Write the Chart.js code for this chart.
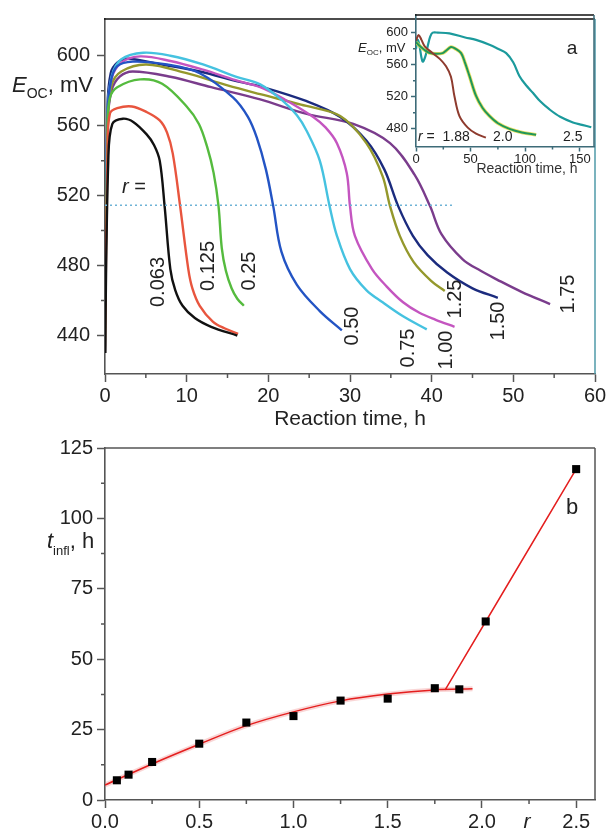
<!DOCTYPE html>
<html>
<head>
<meta charset="utf-8">
<script src="https://cdn.jsdelivr.net/npm/chart.js@4.4.1/dist/chart.umd.min.js"></script>
<style>
    html, body { margin: 0; padding: 0; background: #fff; }
    #wrap { position: relative; width: 611px; height: 833px; }
    canvas { position: absolute; }
    #topChart { left: 0; top: 0; }
    #insetChart { left: 340px; top: 0; }
    #bottomChart { left: 0; top: 432px; }
</style>
</head>
<body>
<div id="wrap">
    <canvas id="topChart" width="611" height="432"></canvas>
    <canvas id="insetChart" width="271" height="185"></canvas>
    <canvas id="bottomChart" width="611" height="401"></canvas>
</div>
<script>
// ===== Panel a: E_OC vs reaction time, one curve per r =====
const t0063 = [0, 0.4, 0.9, 2.2, 3.5, 5.1, 6.0, 6.7, 7.3, 8.0, 8.6, 9.5, 11.0, 13.0, 16.2];
const e0063 = [430, 540, 561, 564, 562, 555, 549, 540, 514, 478, 466, 457, 450, 445, 440];
const t0125 = [0, 0.3, 0.6, 1.5, 3.3, 5.0, 6.7, 7.6, 8.3, 9.2, 10.2, 10.7, 11.6, 13.2, 14.7, 16.3];
const e0125 = [430, 545, 567, 570, 571, 568, 563, 556, 544, 514, 478, 467, 457, 448, 444, 441];
const t025 = [0, 0.3, 0.6, 1.5, 4.3, 7.0, 10.0, 11.5, 12.5, 13.3, 13.9, 14.3, 14.8, 15.5, 16.2, 17.0];
const e025 = [430, 560, 576, 582, 586.5, 584, 571, 561, 548, 533, 514, 490, 477, 467, 461, 457];
const t050 = [0, 0.3, 0.7, 1.5, 3.4, 7.6, 11.6, 15.7, 17.5, 18.6, 19.7, 20.6, 21.6, 23.5, 26.3, 29.0];
const e050 = [430, 565, 585, 594, 596.6, 595, 590, 576, 565, 553, 535, 514, 488, 469, 454, 443];
const t075 = [0, 0.3, 0.8, 2.0, 4.7, 8, 12, 16, 19, 21.8, 23.5, 24.7, 26.3, 27.5, 28.4, 30.0, 32.0, 34.0, 36.5, 39.4];
const e075 = [430, 565, 588, 598, 601.7, 600, 595, 588, 583.6, 574, 566, 557, 540, 514, 497, 478, 466, 459, 451, 443.5];
const t100 = [0, 0.3, 0.8, 2.0, 4.3, 8, 12, 16, 19, 22, 25.5, 27, 28.4, 29.6, 30.0, 30.6, 32.7, 34.5, 36.5, 38.5, 40.5, 42.8];
const e100 = [430, 565, 587, 596, 599.6, 597, 592, 586, 582, 575, 565, 559, 550, 533, 514, 497, 478, 468, 459, 453, 449, 445];
const t125 = [0, 0.3, 0.8, 2.0, 5.1, 10, 15, 19, 24, 28.8, 32, 34, 34.9, 36.1, 37.8, 40, 41.6];
const e125 = [430, 560, 583, 591, 595, 590, 583, 578, 572, 565.5, 550, 531, 514, 497, 482, 471, 465.5];
const t150 = [0, 0.3, 0.7, 1.5, 2.7, 7, 11.6, 16.5, 19, 24.7, 28.8, 32, 34.2, 35.9, 37.7, 39.5, 41.9, 45, 48.1];
const e150 = [430, 570, 590, 596, 598.3, 595, 591, 585, 582.5, 574, 565, 551.5, 535, 514, 497, 486, 476, 467, 461.6];
const t175 = [0, 0.3, 0.8, 1.8, 3.4, 8, 13, 19, 24.7, 30.4, 34.9, 37.9, 39.8, 41.2, 43.8, 46, 48, 51, 54.5];
const e175 = [430, 560, 580, 588, 591, 588, 582, 575, 566.7, 561, 550, 532, 514, 498, 483.6, 477, 472, 465, 458];
const dashT = [0, 42.5];
const dashE = [514.5, 514.5];

const topXTicks = [0, 10, 20, 30, 40, 50, 60];
const topXMinor = [5, 15, 25, 35, 45, 55];
const topYTicks = [440, 480, 520, 560, 600];
const topYMinor = [460, 500, 540, 580];
const curveNames = ['0.063', '0.125', '0.25', '0.50', '0.75', '1.00', '1.25', '1.50', '1.75'];

// ===== Inset: r = 1.88, 2.0, 2.5 =====
const t188 = [0, 2.4, 5, 8, 15.3, 22, 27.5, 32, 35.2, 39.8, 47.4, 55, 64];
const e188 = [590, 597, 591, 583, 574.4, 567, 558, 545, 520.7, 496, 481.6, 474, 469];
const t200 = [0, 3, 7.6, 12, 18.3, 24.5, 28, 32, 36, 41.3, 45, 49, 55, 61, 67.3, 75, 85.6, 97, 110];
const e200 = [588, 584, 578.6, 575, 573.6, 574.5, 578, 582, 580, 574.5, 562, 545.7, 521, 506, 496, 487, 480, 475.5, 472.6];
const t250 = [0, 1.5, 3, 6, 8.5, 10.7, 13, 15.3, 20, 30.6, 45, 55, 67.3, 75, 82.6, 89, 94.8, 101, 107, 114, 122, 132, 143.7, 152, 160.5];
const e250 = [580, 591, 585, 564, 570, 583, 595, 600, 600, 599, 594, 591, 585, 580, 574.5, 563, 545.7, 534, 525, 514, 504.5, 495, 488, 485, 482];
const insetXTicks = [0, 50, 100, 150];
const insetXMinor = [25, 75, 125];
const insetYTicks = [480, 520, 560, 600];
const insetYMinor = [500, 540, 580];

// ===== Panel b: inflection time vs r =====
const rValues = [0.063, 0.125, 0.25, 0.5, 0.75, 1.0, 1.25, 1.5, 1.75, 1.88, 2.02, 2.5];
const tInfl = [7.0, 9.0, 13.5, 20.0, 27.5, 29.8, 35.3, 36.0, 39.7, 39.3, 63.4, 117.5];
const fitR = [0, 0.25, 0.5, 0.75, 1.0, 1.25, 1.5, 1.75, 1.95];
const fitT = [5.3, 12.8, 19.8, 26.4, 31.3, 35.2, 37.6, 39.1, 39.5];
const riseR = [1.805, 2.5];
const riseT = [39.1, 117.5];
const botXTicks = [0, 0.5, 1.0, 1.5, 2.0, 2.5];
const botXMinor = [0.25, 0.75, 1.25, 1.75, 2.25];
const botYTicks = [0, 25, 50, 75, 100, 125];
const botYMinor = [12.5, 37.5, 62.5, 87.5, 112.5];

// ===== Helpers =====
const FONT = '"Liberation Sans", Arial, sans-serif';
Chart.defaults.font.family = FONT;
Chart.defaults.color = '#222';
Chart.defaults.animation = false;

const pts = (xs, ys) => xs.map((x, i) => ({ x, y: ys[i] }));

function curve(label, xs, ys, color, width) {
    return {
        label, data: pts(xs, ys), borderColor: color, borderWidth: width || 2.4,
        pointRadius: 0, fill: false, tension: 0.35
    };
}

const setTicks = values => s => { s.ticks = values.map(v => ({ value: v })); };

function axis(cfg) {
    return {
        type: 'linear', min: cfg.min, max: cfg.max,
        afterBuildTicks: setTicks(cfg.ticks),
        afterFit: cfg.fit,
        ticks: { autoSkip: false, maxRotation: 0, padding: cfg.pad, font: { size: cfg.size }, color: '#222', callback: cfg.fmt },
        grid: { display: true, drawOnChartArea: false, tickLength: cfg.tick, tickColor: cfg.color, tickWidth: 1.5 },
        border: { display: true, color: cfg.color, width: 1.6 }
    };
}

// text made of runs with different fonts / baseline shifts
function runs(ctx, x, y, parts) {
    ctx.textAlign = 'left';
    ctx.textBaseline = 'alphabetic';
    parts.forEach(p => {
        ctx.font = p.f;
        ctx.fillText(p.t, x, y + (p.dy || 0));
        x += ctx.measureText(p.t).width;
    });
}

function rotText(ctx, text, cx, cy, font) {
    ctx.save();
    ctx.translate(cx, cy);
    ctx.rotate(-Math.PI / 2);
    ctx.font = font;
    ctx.textAlign = 'center';
    ctx.textBaseline = 'middle';
    ctx.fillText(text, 0, 0);
    ctx.restore();
}

// minor ticks + top/right frame lines + free text
function decor(o) {
    return {
        id: 'decor',
        afterDraw(chart) {
            const ctx = chart.ctx, a = chart.chartArea;
            const xs = chart.scales.x, ys = chart.scales.y;
            ctx.save();
            ctx.lineWidth = 1.5;
            ctx.strokeStyle = o.axisColor;
            ctx.beginPath();
            o.xMinor.forEach(v => { const p = xs.getPixelForValue(v); ctx.moveTo(p, a.bottom); ctx.lineTo(p, a.bottom + o.minor); });
            o.yMinor.forEach(v => { const p = ys.getPixelForValue(v); ctx.moveTo(a.left, p); ctx.lineTo(a.left - o.minor, p); });
            ctx.stroke();
            ctx.strokeStyle = o.topColor;
            ctx.beginPath(); ctx.moveTo(a.left - 1, a.top); ctx.lineTo(a.right, a.top); ctx.stroke();
            ctx.strokeStyle = o.rightColor;
            ctx.beginPath(); ctx.moveTo(a.right, a.top); ctx.lineTo(a.right, a.bottom); ctx.stroke();
            ctx.fillStyle = '#222';
            o.text(ctx, chart);
            ctx.restore();
        }
    };
}

const baseOpts = (padding, scales) => ({
    responsive: false,
    animation: false,
    layout: { padding },
    plugins: { legend: { display: false }, tooltip: { enabled: false } },
    scales
});

// ===== Top chart =====
const topColors = ['#111111', '#e8553e', '#55bb3e', '#2354c4', '#45c2e0', '#c455c0', '#94982c', '#1b2b7e', '#7a3c8c'];
const topSets = [
    [t0063, e0063], [t0125, e0125], [t025, e025], [t050, e050], [t075, e075],
    [t100, e100], [t125, e125], [t150, e150], [t175, e175]
];
const labelSpots = [[158, 282], [208, 266], [249, 271], [352, 326], [408, 348], [446, 350], [455, 299], [498, 321], [568, 294]];

new Chart(document.getElementById('topChart'), {
    type: 'line',
    data: {
        datasets: [
            { label: 'r level', data: pts(dashT, dashE), borderColor: '#6fb3d6', borderWidth: 1.5, borderDash: [2, 3], pointRadius: 0 },
            ...topSets.map((s, i) => curve(curveNames[i], s[0], s[1], topColors[i]))
        ]
    },
    options: baseOpts({ left: 0, right: 16, top: 15, bottom: 0 }, {
        x: Object.assign(axis({ min: 0, max: 60, ticks: topXTicks, pad: 2, size: 20, tick: 8, color: '#555',
            fit: s => { s.height = 58; } }),
            { title: { display: true, text: 'Reaction time, h', font: { size: 21 }, color: '#222', padding: 0 } }),
        y: axis({ min: 418, max: 621, ticks: topYTicks, pad: 7, size: 20, tick: 8, color: '#555',
            fit: s => { s.width = 105; } })
    }),
    plugins: [decor({
        axisColor: '#555', topColor: '#111', rightColor: '#4f9aa8', minor: 4,
        xMinor: topXMinor, yMinor: topYMinor,
        text(ctx) {
            runs(ctx, 12, 92, [
                { t: 'E', f: 'italic 22px ' + FONT },
                { t: 'OC', f: '14px ' + FONT, dy: 6 },
                { t: ', mV', f: '22px ' + FONT }
            ]);
            runs(ctx, 122, 193, [
                { t: 'r', f: 'italic 20px ' + FONT },
                { t: ' =', f: '20px ' + FONT }
            ]);
            curveNames.forEach((n, i) => rotText(ctx, n, labelSpots[i][0], labelSpots[i][1], '20px ' + FONT));
        }
    })]
});

// ===== Inset chart =====
new Chart(document.getElementById('insetChart'), {
    type: 'line',
    data: {
        datasets: [
            curve('1.88', t188, e188, '#8e3b2e', 2),
            curve('2.0', t200, e200, '#20975a', 2),
            curve('2.0 under', t200, e200, 'rgba(225,215,60,0.8)', 3.6),
            curve('2.5', t250, e250, '#1b9a9c', 2.2)
        ]
    },
    options: baseOpts({ left: 0, right: 17, top: 15, bottom: 0 }, {
        x: axis({ min: 0, max: 163, ticks: insetXTicks, pad: 0, size: 13, tick: 5, color: '#3d6b78',
            fit: s => { s.height = 38.5; } }),
        y: axis({ min: 458, max: 622, ticks: insetYTicks, pad: 3, size: 13, tick: 5, color: '#3d6b78',
            fit: s => { s.width = 76; } })
    }),
    plugins: [decor({
        axisColor: '#3d6b78', topColor: '#111', rightColor: '#3d6b78', minor: 3,
        xMinor: insetXMinor, yMinor: insetYMinor,
        text(ctx) {
            runs(ctx, 18, 52, [
                { t: 'E', f: 'italic 13px ' + FONT },
                { t: 'OC', f: '8px ' + FONT, dy: 3 },
                { t: ', mV', f: '13px ' + FONT }
            ]);
            runs(ctx, 78, 141, [
                { t: 'r', f: 'italic 14px ' + FONT },
                { t: ' =  1.88', f: '14px ' + FONT }
            ]);
            runs(ctx, 153, 141, [{ t: '2.0', f: '14px ' + FONT }]);
            runs(ctx, 223, 141, [{ t: '2.5', f: '14px ' + FONT }]);
            ctx.font = '19px ' + FONT;
            ctx.textAlign = 'center';
            ctx.textBaseline = 'middle';
            ctx.fillText('a', 232, 49);
            ctx.font = '14px ' + FONT;
            ctx.fillStyle = '#333';
            ctx.fillText('Reaction time, h', 187, 169);
        }
    })]
});

// ===== Bottom chart =====
new Chart(document.getElementById('bottomChart'), {
    type: 'line',
    data: {
        datasets: [
            { label: 'points', data: pts(rValues, tInfl), showLine: false, pointStyle: 'rect', pointRadius: 5.7,
              pointBackgroundColor: '#000', pointBorderWidth: 0 },
            curve('fit', fitR, fitT, '#e41e1e', 1.5),
            curve('rise', riseR, riseT, '#e41e1e', 1.5),
            curve('fit halo', fitR, fitT, 'rgba(235,120,120,0.3)', 5)
        ]
    },
    options: baseOpts({ left: 0, right: 16, top: 11, bottom: 0 }, {
        x: axis({ min: 0, max: 2.6, ticks: botXTicks, pad: 2, size: 20, tick: 8, color: '#555',
            fmt: v => v.toFixed(1), fit: s => { s.height = 33; } }),
        y: axis({ min: 0, max: 125, ticks: botYTicks, pad: 4, size: 20, tick: 8, color: '#555',
            fit: s => { s.width = 105; } })
    }),
    plugins: [decor({
        axisColor: '#555', topColor: '#555', rightColor: '#555', minor: 4,
        xMinor: botXMinor, yMinor: botYMinor,
        text(ctx) {
            runs(ctx, 47, 116, [
                { t: 't', f: 'italic 22px ' + FONT },
                { t: 'infl', f: '13px ' + FONT, dy: 7 },
                { t: ', h', f: '22px ' + FONT }
            ]);
            ctx.font = '22px ' + FONT;
            ctx.textAlign = 'center';
            ctx.textBaseline = 'middle';
            ctx.fillText('b', 572, 76);
            ctx.font = 'italic 21px ' + FONT;
            ctx.fillText('r', 527, 390);
        }
    })]
});
</script>
</body>
</html>
